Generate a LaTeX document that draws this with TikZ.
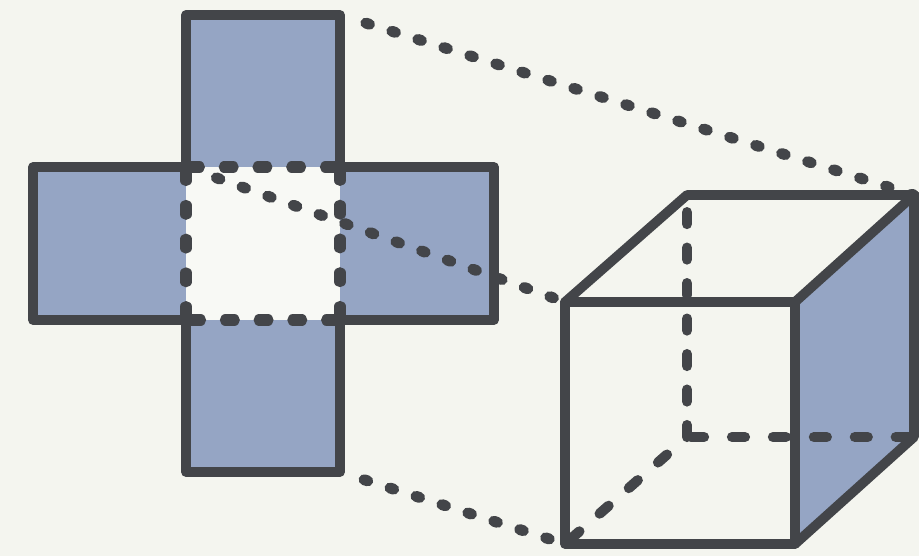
\documentclass[tikz,border=0pt]{standalone}
\usepackage{tikz}
\usetikzlibrary{calc}
\definecolor{paper}{HTML}{F4F5EF}
\definecolor{facefill}{HTML}{95A5C4}
\definecolor{inkline}{HTML}{434549}

\begin{document}
\begin{tikzpicture}[x=0.02cm, y=-0.02cm,
    solidedge/.style={line width=5.5pt, draw=inkline, line join=round, line cap=round},
    hiddenedge/.style={line width=5.8pt, draw=inkline, line cap=round},
    foldedge/.style={line width=6.4pt, draw=inkline, line cap=round, dash pattern=on 5pt off 14.2pt, dash phase=16.6pt},
    linkdots/.style={line width=6.2pt, draw=inkline, line cap=round, dash pattern=on 2.2pt off 13.3pt}]
    % Background
    \fill[paper] (0,0) rectangle (919,556);
    \useasboundingbox (0,0) rectangle (919,556);

    % Define coordinates of the net
    \coordinate (NA) at (186,167);
    \coordinate (NB) at (340,167);
    \coordinate (NC) at (340,320);
    \coordinate (ND) at (186,320);
    \coordinate (TL) at (186,15);
    \coordinate (TR) at (340,15);
    \coordinate (BL) at (186,472);
    \coordinate (BR) at (340,472);
    \coordinate (LU) at (33,167);
    \coordinate (LD) at (33,320);
    \coordinate (RU) at (494,167);
    \coordinate (RD) at (494,320);

    % Define coordinates of the cube
    \coordinate (F1) at (565,302);
    \coordinate (F2) at (795,302);
    \coordinate (F3) at (795,544);
    \coordinate (F4) at (565,544);
    \coordinate (K1) at (687,195);
    \coordinate (K2) at (914,195);
    \coordinate (K3) at (914,437);
    \coordinate (K4) at (687,437);

    % Draw the net
    \fill[facefill] (TL) -- (TR) -- (BR) -- (BL) -- cycle;
    \fill[facefill] (LU) -- (RU) -- (RD) -- (LD) -- cycle;
    \fill[paper!60!white] (NA) -- (NB) -- (NC) -- (ND) -- cycle;
    \draw[solidedge] (NA) -- (TL) -- (TR) -- (NB);
    \draw[solidedge] (NB) -- (RU) -- (RD) -- (NC);
    \draw[solidedge] (NC) -- (BR) -- (BL) -- (ND);
    \draw[solidedge] (ND) -- (LD) -- (LU) -- (NA);
    \draw[foldedge] (NA) -- (NB);
    \draw[foldedge] (NB) -- (NC);
    \draw[foldedge] (NC) -- (ND);
    \draw[foldedge] (ND) -- (NA);

    % Draw the cube
    \fill[facefill] (F2) -- (K2) -- (K3) -- (F3) -- cycle;
    \draw[hiddenedge, dash pattern=on 6.8pt off 13.4pt] (K4) -- (K1);
    \draw[hiddenedge, dash pattern=on 7.4pt off 15.9pt, dash phase=21pt] (K4) -- (K3);
    \draw[hiddenedge, dash pattern=on 6.8pt off 15.3pt] ($(K4)!0.164!(F4)$) -- (F4);
    \draw[solidedge] (F1) -- (F2) -- (F3) -- (F4) -- cycle;
    \draw[solidedge] (F1) -- (K1) -- (K2) -- (K3) -- (F3);
    \draw[solidedge] (F2) -- (K2);

    % Draw the links
    \draw[linkdots] ($(TR)!0.045!(K2)$) -- (K2);
    \draw[linkdots] ($(NA)!0.08!(F1)$) -- (F1);
    \draw[linkdots] ($(BR)!0.107!(F4)$) -- (F4);
\end{tikzpicture}
\end{document}
